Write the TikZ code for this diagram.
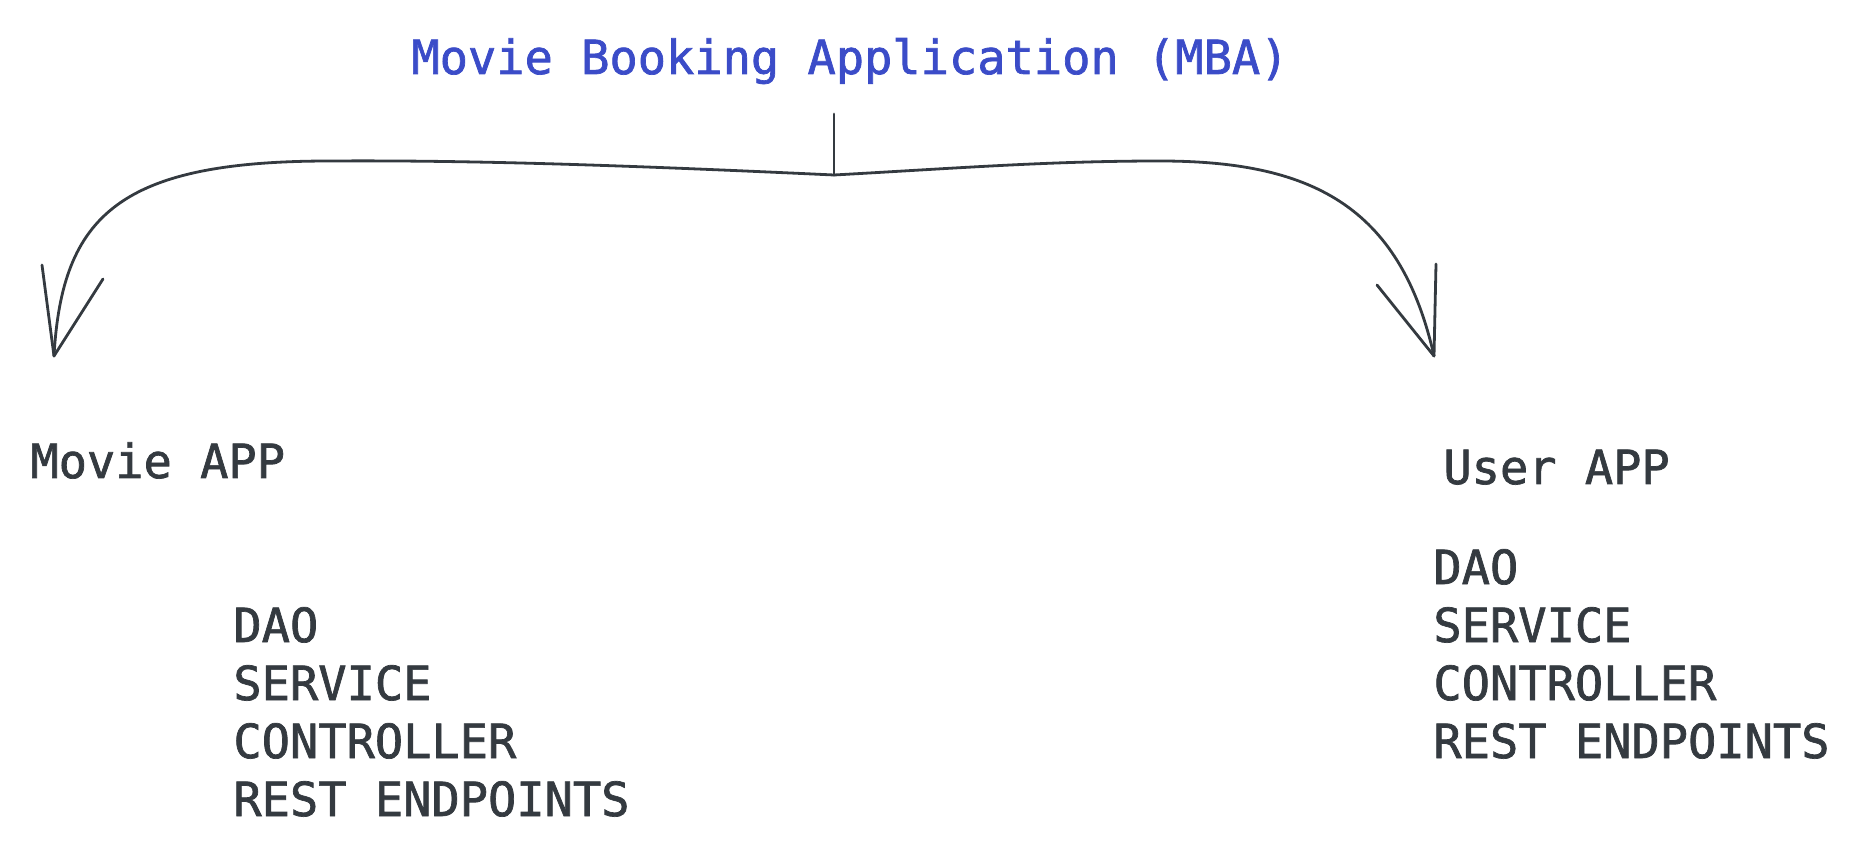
\documentclass[tikz,border=0pt]{standalone}
\usepackage{fontspec}
\usepackage{tikz}
\usetikzlibrary{positioning}
\newfontfamily\monofont[FakeBold=1.5]{DejaVu Sans Mono}
\definecolor{ink}{HTML}{343A40}
\definecolor{mbablue}{HTML}{3B4CC8}
\tikzstyle{apptext} = [font=\monofont\fontsize{23.5}{29}\selectfont, text=ink,
    inner sep=0pt, anchor=base west]
\tikzstyle{brace} = [draw=ink, line width=1.4pt, line cap=round, line join=round]

\begin{document}
\begin{tikzpicture}[x=0.5pt, y=-0.5pt]
  \useasboundingbox (0,0) rectangle (1858,855);
  % Place nodes
  \node [apptext, text=mbablue, anchor=base] (mba) at (850,74) {Movie Booking Application (MBA)};
  \node [apptext] (movie) at (30,478) {Movie APP};
  \node [apptext] (user) at (1443,484) {User APP};
  % layers of each app
  \node [apptext] (mdao) at (233,642) {DAO};
  \node [apptext, below=29pt of mdao.base west, anchor=base west] (mservice) {SERVICE};
  \node [apptext, below=29pt of mservice.base west, anchor=base west] (mcontroller) {CONTROLLER};
  \node [apptext, below=29pt of mcontroller.base west, anchor=base west] (mrest) {REST ENDPOINTS};
  \node [apptext] (udao) at (1433,584) {DAO};
  \node [apptext, below=29pt of udao.base west, anchor=base west] (uservice) {SERVICE};
  \node [apptext, below=29pt of uservice.base west, anchor=base west] (ucontroller) {CONTROLLER};
  \node [apptext, below=29pt of ucontroller.base west, anchor=base west] (urest) {REST ENDPOINTS};
  % brace with two arrows
  \coordinate (stemtop) at (834,114);
  \coordinate (fork) at (834,175);
  \coordinate (tipL) at (54,356);
  \coordinate (tipR) at (1434,356);
  \draw [brace] (stemtop) -- (fork);
  \draw [brace] (fork) .. controls (640,166) and (480,160) .. (330,161)
    .. controls (120,161) and (62,215) .. (tipL);
  \draw [brace] (fork) .. controls (960,168) and (1050,161) .. (1160,161)
    .. controls (1310,161) and (1400,205) .. (tipR);
  \draw [brace] (tipL) -- ++(-12,-91);
  \draw [brace] (tipL) -- ++(49,-77);
  \draw [brace] (tipR) -- ++(-57,-71);
  \draw [brace] (tipR) -- ++(2,-92);
\end{tikzpicture}
\end{document}
